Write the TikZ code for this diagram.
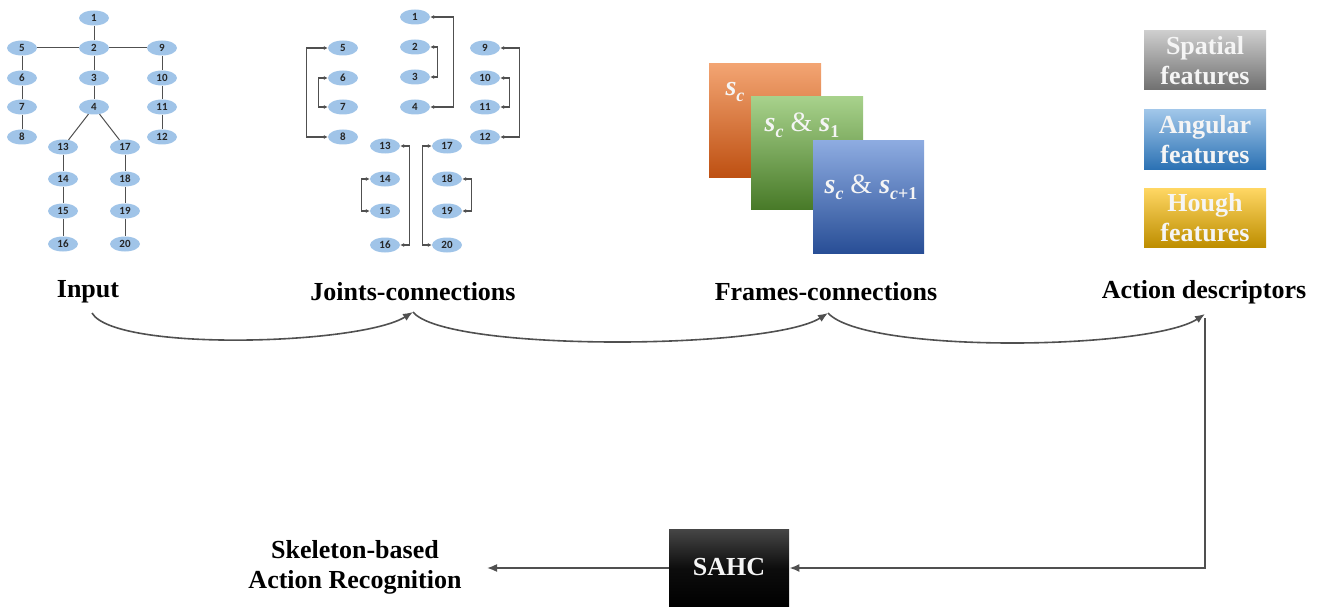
\documentclass[tikz,border=0pt]{standalone}
\usepackage{fontspec}
\setmainfont{Liberation Serif}
\newfontfamily\numfont{Carlito}
\usetikzlibrary{shapes.geometric,arrows.meta,calc}
\definecolor{jointblue}{RGB}{160,196,232}
\definecolor{linegray}{RGB}{80,80,80}
\definecolor{txtwhite}{RGB}{245,245,245}
\newcommand\symS[1]{\textbf{\textit{s}}\raisebox{-0.22em}{\fontsize{18}{18}\selectfont\bfseries\itshape #1}}
\tikzset{
  jt/.style={ellipse,minimum width=30pt,minimum height=15pt,inner sep=0pt,
    fill=jointblue,font=\numfont\bfseries\fontsize{11}{11}\selectfont,text=black!85},
  bone/.style={draw=linegray,line width=1pt},
  jarr/.style={draw=linegray,line width=1.1pt,{Latex[length=4pt,width=4pt]}-{Latex[length=4pt,width=4pt]}},
  lbl/.style={font=\bfseries\fontsize{26}{30}\selectfont,text=black,inner sep=0pt},
  flow/.style={draw=linegray,line width=1.6pt,-{Latex[length=10pt,width=8pt]}},
  feat/.style={minimum width=122pt,minimum height=59pt,inner sep=0pt,align=center,
    font=\bfseries\fontsize{26}{30}\selectfont,text=txtwhite},
  frame/.style={minimum width=112pt,minimum height=114pt,inner sep=0pt,anchor=north west},
  ftxt/.style={text=txtwhite,font=\fontsize{28}{30}\selectfont},
}
\begin{document}
\begin{tikzpicture}[x=1pt,y=-1pt]
\useasboundingbox (0,0) rectangle (1322,607);

% ---------- Input skeleton ----------
\foreach \n/\x/\y in {1/94/18,2/94/48,3/94/78,4/94/107,5/22/48,6/22/78,7/22/107,8/22/137,
  9/162/48,10/162/78,11/162/107,12/162/137,13/63/147,14/63/179,15/63/211,16/63/244,
  17/125/147,18/125/179,19/125/211,20/125/244}
  \node[jt] (a\n) at (\x,\y) {\n};
\foreach \u/\v in {1/2,2/3,3/4,2/5,2/9,5/6,6/7,7/8,9/10,10/11,11/12,4/13,4/17,13/14,14/15,15/16,17/18,18/19,19/20}
  \draw[bone] (a\u) -- (a\v);

% ---------- Joints-connections ----------
\foreach \n/\x/\y in {1/415/17,2/415/47,3/415/77,4/415/107,5/343/48,6/343/78,7/343/107,8/343/137,
  9/485/48,10/485/78,11/485/107,12/485/137,13/385/146,14/385/179,15/385/211,16/385/245,
  17/447/146,18/447/179,19/447/211,20/447/245}
  \node[jt] (j\n) at (\x,\y) {\n};
\draw[jarr] (j1.east) -- ++(23,0) |- (j4.east);
\draw[jarr] (j2.east) -- ++(7,0) |- (j3.east);
\draw[jarr] (j5.west) -- ++(-21,0) |- (j8.west);
\draw[jarr] (j6.west) -- ++(-9,0) |- (j7.west);
\draw[jarr] (j9.east) -- ++(19,0) |- (j12.east);
\draw[jarr] (j10.east) -- ++(9,0) |- (j11.east);
\draw[jarr] (j13.east) -- ++(9,0) |- (j16.east);
\draw[jarr] (j14.west) -- ++(-8,0) |- (j15.west);
\draw[jarr] (j17.west) -- ++(-9,0) |- (j20.west);
\draw[jarr] (j18.east) -- ++(9,0) |- (j19.east);

% ---------- Frames-connections ----------
\node[frame,top color={rgb,255:red,243;green,165;blue,115},bottom color={rgb,255:red,190;green,80;blue,18}] (fo) at (709,63) {};
\node[ftxt] (fot) at (735,92) {\symS{c}};
\node[frame,minimum height=113pt,top color={rgb,255:red,168;green,210;blue,140},bottom color={rgb,255:red,72;green,122;blue,40}] (fg) at (751,96) {};
\node[ftxt] (fgt) at (802,125) {\symS{c} \& \symS{\upshape 1}};
\node[frame,minimum width=111pt,minimum height=113pt,top color={rgb,255:red,142;green,172;blue,225},bottom color={rgb,255:red,40;green,78;blue,150}] (fb) at (813,140) {};
\node[ftxt] (fbt) at (871,187) {\symS{c} \& \symS{c\upshape+1}};

% ---------- Action descriptors ----------
\node[feat,top color={rgb,255:red,205;green,205;blue,205},bottom color={rgb,255:red,112;green,112;blue,112}] (sp) at (1205,60.5) {Spatial\\features};
\node[feat,top color={rgb,255:red,160;green,198;blue,233},bottom color={rgb,255:red,44;green,114;blue,180}] (an) at (1205,139.5) {Angular\\features};
\node[feat,top color={rgb,255:red,255;green,215;blue,100},bottom color={rgb,255:red,190;green,142;blue,0}] (ho) at (1205,217.5) {Hough\\features};

% ---------- Stage labels ----------
\node[lbl] (input) at (88,292) {Input};
\node[lbl] (joints) at (413,292) {Joints-connections};
\node[lbl] (frames) at (826,292) {Frames-connections};
\node[lbl] (action) at (1204,292) {Action descriptors};

\coordinate (c0) at (92,313);
\coordinate (c1) at (413,312);
\coordinate (c2) at (828,313);
\coordinate (c3) at (1205,314);
\draw[flow] (c0) .. controls (115,352) and (360,345) .. (c1);
\draw[flow] (c1) .. controls (445,352) and (770,350) .. (c2);
\draw[flow] (c2) .. controls (865,354) and (1150,350) .. (c3);

% ---------- SAHC and output ----------
\node[minimum width=120pt,minimum height=78pt,inner sep=0pt,anchor=north west,
  top color={rgb,255:red,70;green,70;blue,70},bottom color=black,middle color=black!95] (sahc) at (669,529) {};
\node[font=\bfseries\fontsize{26}{30}\selectfont,text=txtwhite] (sahct) at (729,567) {SAHC};
\node[lbl,align=center,font=\bfseries\fontsize{26}{30}\selectfont] (out) at (355,567) {Skeleton-based\\Action Recognition};

\coordinate (vtop) at (1205,318);
\coordinate (vcorner) at (1205,568);
\draw[flow] (vtop) -- (vcorner) -- (sahc.east |- vcorner);
\coordinate (outtip) at (487,568);
\draw[flow] (sahc.west |- outtip) -- (outtip);
\end{tikzpicture}
\end{document}
